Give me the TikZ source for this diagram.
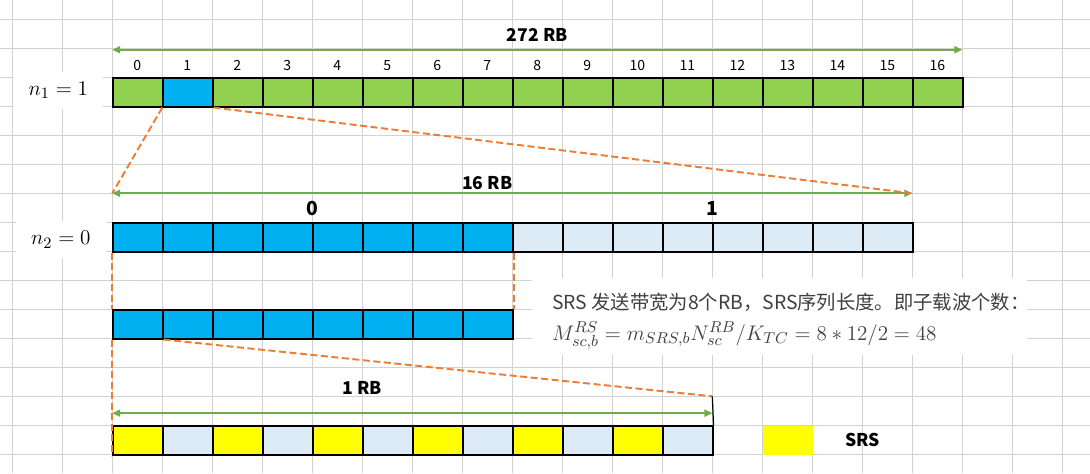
\documentclass[tikz,border=0pt]{standalone}
\usepackage{amsmath}
\usepackage{fontspec}
\newfontfamily\cjk{Noto Sans CJK SC}
\usepackage{xcolor}
\usepackage{tikz}
\usetikzlibrary{arrows.meta, positioning, calc}

\definecolor{rbgreen}{HTML}{92D050}
\definecolor{rbblue}{HTML}{00B0F0}
\definecolor{rbpale}{HTML}{DDEBF7}
\definecolor{srsyellow}{HTML}{FFFF00}
\definecolor{spangreen}{HTML}{70AD47}
\definecolor{zoomorange}{HTML}{ED7D31}
\definecolor{notegray}{HTML}{404040}

\begin{document}
\begin{tikzpicture}[
    x=1cm,
    y=-0.58cm,
    gridline/.style={
        draw=gray!35,
        line width=0.6pt
    },
    cell/.style={
        rectangle,
        draw=black,
        line width=0.7pt,
        minimum width=1cm,
        minimum height=0.58cm,
        inner sep=0pt,
        anchor=north west
    },
    idx/.style={font=\cjk\fontsize{8}{9}\selectfont},
    rblabel/.style={font=\cjk\bfseries\fontsize{10}{12}\selectfont},
    partlabel/.style={font=\cjk\bfseries\fontsize{11}{13}\selectfont},
    nlabel/.style={
        fill=white,
        minimum width=1.8cm,
        minimum height=0.75cm,
        font=\fontsize{12.5}{14}\selectfont
    },
    notetext/.style={
        anchor=base west,
        inner sep=0pt,
        text=notegray
    },
    span/.style={
        {Triangle[length=4.5pt,width=4pt]}-{Triangle[length=4.5pt,width=4pt]},
        draw=spangreen,
        line width=1.1pt
    },
    zoomline/.style={
        draw=zoomorange,
        line width=1.1pt,
        dash pattern=on 4pt off 2pt
    }
]

% Background and grid
\useasboundingbox (-0.246,-0.666) rectangle (21.554,15.645);
\fill[white] (-0.246,-0.666) rectangle (21.554,15.645);
\foreach \c in {0,...,21}
    \draw[gridline] (\c,-0.666) -- (\c,15.645);
\foreach \r in {0,...,15}
    \draw[gridline] (-0.246,\r) -- (21.554,\r);

% Row labels
\node[nlabel] (n1) at (0.92,2.45) {$n_1 = 1$};
\node[nlabel] (n2) at (0.97,7.6) {$n_2 = 0$};

% 272 RB row
\foreach \i in {0,...,16} {
    \ifnum\i=1 \def\cellfill{rbblue}\else\def\cellfill{rbgreen}\fi
    \node[cell, fill=\cellfill] (rb\i) at (\i+2,2) {};
    \node[idx] (idx\i) at (\i+2.5,1.58) {\i};
}

% 16 RB row
\foreach \i in {0,...,15} {
    \ifnum\i<8 \def\cellfill{rbblue}\else\def\cellfill{rbpale}\fi
    \node[cell, fill=\cellfill] (sub\i) at (\i+2,7) {};
}
\node[partlabel] (part0) at (6,6.54) {0};
\node[partlabel] (part1) at (14,6.54) {1};

% selected 8 RB
\foreach \i in {0,...,7}
    \node[cell, fill=rbblue] (sel\i) at (\i+2,10) {};

% subcarriers of 1 RB
\foreach \i in {0,...,11} {
    \ifodd\i \def\cellfill{rbpale}\else\def\cellfill{srsyellow}\fi
    \node[cell, fill=\cellfill] (re\i) at (\i+2,14) {};
}

% Legend
\node[cell, draw=none, fill=srsyellow] (key) at (15,14) {};
\node[rblabel] (keytext) at (17,14.5) {SRS};

% Note
\node[fill=white, minimum width=9.9cm, minimum height=1.54cm] (note) at (15.34,10.25) {};
\node[notetext, font=\cjk\fontsize{11}{13}\selectfont] (notecn) at (10.79,10.0)
    {SRS 发送带宽为8个RB，SRS序列长度。即子载波个数：};
\node[notetext, font=\fontsize{12.4}{14}\selectfont] (noteeq) at (10.79,11.06)
    {$M_{sc,b}^{RS} = m_{SRS,b}N_{sc}^{RB}/K_{TC} = 8*12/2 = 48$};

% Spans
\coordinate (top l) at (2,1.05);
\coordinate (top r) at (19,1.05);
\coordinate (mid l) at (2,6);
\coordinate (mid r) at (18,6);
\coordinate (low l) at (2,13.58);
\coordinate (low r) at (14,13.58);
\coordinate (low end) at (14,13);

\draw[span] (top l) -- (top r);
\node[rblabel] (bw272) at (10.5,0.54) {272 RB};
\draw[span] (mid l) -- (mid r);
\node[rblabel] (bw16) at (9.5,5.66) {16 RB};
\draw[span] (low l) -- (low r);
\node[rblabel] (bw1) at (7,12.7) {1 RB};

% Zoom lines
\draw[zoomline] (rb1.south west) -- (mid l);
\draw[zoomline] (rb1.south east) -- (mid r);
\draw[zoomline] (sub0.south west) -- (sel0.north west);
\draw[zoomline] (sub7.south east) -- (sel7.north east);
\draw[zoomline] (sel0.south west) -- (re0.south west);
\draw[zoomline] (sel0.south east) -- (low end);
\draw[line width=0.7pt] (low end) -- (re11.north east);

\end{tikzpicture}
\end{document}
